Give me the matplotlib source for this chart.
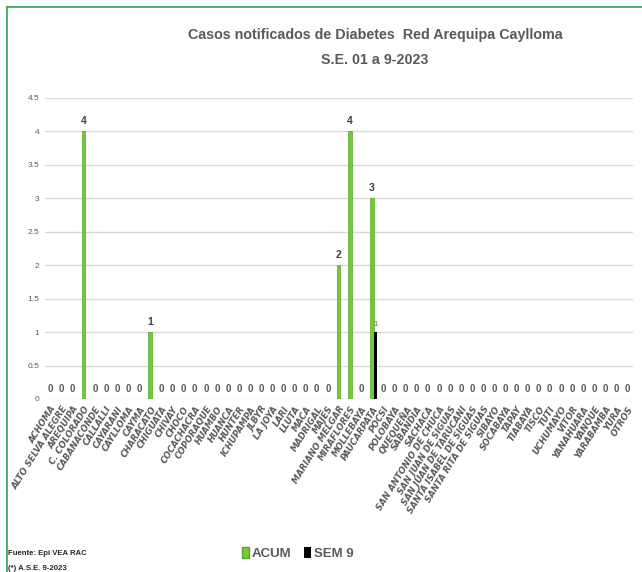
import numpy as np
import matplotlib
matplotlib.use("Agg")
import matplotlib.pyplot as plt
from matplotlib.patches import Patch
from matplotlib.lines import Line2D

distritos = ["ACHOMA", "ALTO SELVA ALEGRE", "AREQUIPA", "C. COLORADO", "CABANACONDE",
             "CALLALLI", "CAYARANI", "CAYLLOMA", "CAYMA", "CHARACATO", "CHIGUATA",
             "CHIVAY", "CHOCO", "COCACHACRA", "COPORAQUE", "HUAMBO", "HUANCA", "HUNTER",
             "ICHUPAMPA", "JLBYR", "LA JOYA", "LARI", "LLUTA", "MACA", "MADRIGAL", "MAJES",
             "MARIANO MELGAR", "MIRAFLORES", "MOLLEBAYA", "PAUCARPATA", "POCSI", "POLOBAYA",
             "QUEQUEÑA", "SABANDIA", "SACHACA", "SAN ANTONIO DE CHUCA", "SAN JUAN DE SIGUAS",
             "SAN JUAN DE TARUCANI", "SANTA ISABEL DE SIGUAS", "SANTA RITA DE SIGUAS",
             "SIBAYO", "SOCABAYA", "TAPAY", "TIABAYA", "TISCO", "TUTI", "UCHUMAYO", "VITOR",
             "YANAHUARA", "YANQUE", "YARABAMBA", "YURA", "OTROS"]

acum = [0] * len(distritos)
acum[distritos.index("C. COLORADO")] = 4
acum[distritos.index("CHARACATO")] = 1
acum[distritos.index("MARIANO MELGAR")] = 2
acum[distritos.index("MIRAFLORES")] = 4
acum[distritos.index("PAUCARPATA")] = 3

sem9 = [0] * len(distritos)
sem9[distritos.index("PAUCARPATA")] = 1

titulo = "Casos notificados de Diabetes  Red Arequipa Caylloma\nS.E. 01 a 9-2023"

arial = ["Liberation Sans", "DejaVu Sans"]
gris = "#595959"
verde = "#74C935"

fig = plt.figure(figsize=(6.42, 5.72), dpi=100)
ax = fig.add_axes([0.070, 0.3025, 0.916, 0.5262])

x = np.arange(len(distritos))
ax.bar(x - 0.03, acum, width=0.33, color=verde, edgecolor="#56A82A", linewidth=0.5, zorder=3)
ax.bar(x + 0.3, sem9, width=0.33, color="black", zorder=3)

for i, v in enumerate(acum):
    if v > 0:
        ax.text(x[i] - 0.03, v + 0.08, str(v), ha="center", va="bottom",
                fontsize=7.5, fontweight="bold", color="#404040", family=arial)
    else:
        ax.text(x[i], 0.07, "0", ha="center", va="bottom",
                fontsize=7, fontweight="bold", color=gris, family=arial)
for i, v in enumerate(sem9):
    if v > 0:
        ax.text(x[i] + 0.3, v + 0.06, str(v), ha="center", va="bottom",
                fontsize=5.5, color=gris, family=arial)

ax.set_xlim(-0.5, len(distritos) - 0.5)
ax.set_ylim(0, 4.5)
ax.set_yticks(np.arange(0, 4.51, 0.5))
ax.set_yticklabels(["0", "0.5", "1", "1.5", "2", "2.5", "3", "3.5", "4", "4.5"],
                   fontsize=6, color=gris, family=arial)
ax.set_xticks(x)
ax.set_xticklabels(distritos, rotation=58, ha="right", rotation_mode="anchor",
                   fontsize=6.2, fontweight="bold", fontstyle="italic", color=gris,
                   family="DejaVu Sans")
ax.tick_params(length=0, pad=4)
ax.grid(axis="y", color="#D9D9D9", linewidth=1, zorder=0)
for s in ax.spines.values():
    s.set_visible(False)

fig.text(0.584, 0.917, titulo, ha="center", va="center", fontsize=10.3,
         fontweight="bold", color=gris, family=arial, linespacing=1.95)

handles = [Patch(facecolor=verde, edgecolor="#56A82A"), Patch(facecolor="black")]
fig.legend(handles, ["ACUM", "SEM 9"], loc="center", bbox_to_anchor=(0.464, 0.033),
           ncol=2, frameon=False, handlelength=0.5, handleheight=0.9, handletextpad=0.2,
           columnspacing=1.0, prop={"family": arial, "weight": "bold", "size": 9.5},
           labelcolor=gris)

fig.text(0.013, 0.033, "Fuente: Epi VEA RAC", fontsize=5.6, fontweight="bold",
         color="#262626", family=arial, va="center")
fig.text(0.013, 0.006, "(*) A.S.E. 9-2023", fontsize=5.6, fontweight="bold",
         color="#262626", family=arial, va="center")

# borde verde del cuadro
fig.add_artist(Line2D([0.011, 0.011], [0, 0.988], color="#2BA84A", linewidth=1.2))
fig.add_artist(Line2D([0.011, 1.0], [0.988, 0.988], color="#2BA84A", linewidth=1.2))

fig.savefig("out.png", dpi=100)
